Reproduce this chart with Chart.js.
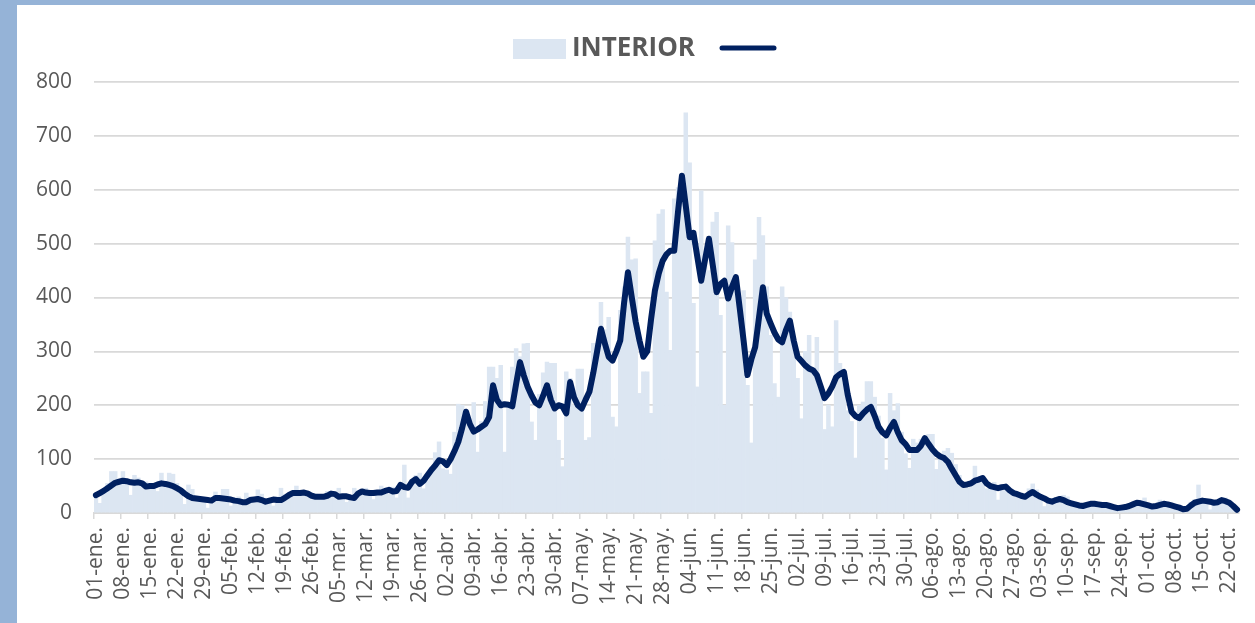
<!DOCTYPE html>
<html>
<head>
<meta charset="utf-8">
<script src="https://cdn.jsdelivr.net/npm/chart.js@4.4.1/dist/chart.umd.min.js"></script>
<style>
  html, body { margin: 0; padding: 0; }
  body { background: #95B3D7; width: 1255px; height: 623px; overflow: hidden; }
  #box { position: absolute; left: 17px; top: 5px; width: 1238px; height: 618px; background: #fff; }
</style>
</head>
<body>
<div id="box"><canvas id="chart" width="1238" height="618"></canvas></div>
<script>
// meses del año (no bisiesto), hasta el 24-oct
const months = [['ene', 31], ['feb', 28], ['mar', 31], ['abr', 30], ['may', 31],
                ['jun', 30], ['jul', 31], ['ago', 31], ['sep', 30], ['oct', 24]];

// casos diarios (barras)
const dailyValues = [
  30, 18, 40, 55, 77, 77, 60,
  77, 62, 33, 70, 65, 50, 58,
  45, 52, 40, 74, 55, 74, 72,
  55, 45, 16, 52, 44, 30, 25,
  22, 9, 25, 39, 30, 44, 44,
  13, 25, 30, 20, 37, 30, 20,
  43, 35, 25, 20, 13, 30, 46,
  35, 30, 38, 50, 40, 33, 30,
  25, 35, 28, 30, 40, 35, 30,
  46, 30, 20, 30, 46, 42, 35,
  46, 40, 25, 40, 50, 45, 35,
  48, 28, 50, 89, 28, 60, 70,
  74, 45, 60, 85, 112, 132, 82,
  80, 72, 150, 202, 200, 190, 160,
  205, 113, 170, 207, 271, 271, 250,
  274, 113, 200, 271, 305, 290, 314,
  315, 169, 135, 220, 260, 280, 278,
  278, 135, 86, 262, 250, 200, 267,
  267, 135, 140, 315, 315, 391, 340,
  363, 178, 160, 376, 420, 512, 470,
  472, 222, 262, 262, 185, 505, 555,
  563, 410, 302, 583, 604, 600, 743,
  650, 389, 234, 598, 480, 450, 540,
  558, 367, 200, 533, 502, 440, 400,
  413, 237, 130, 470, 549, 515, 420,
  330, 240, 215, 420, 400, 373, 311,
  250, 175, 300, 330, 260, 326, 230,
  155, 200, 160, 357, 278, 240, 190,
  170, 102, 200, 206, 244, 244, 215,
  180, 139, 80, 222, 190, 203, 150,
  110, 83, 137, 130, 137, 140, 146,
  146, 81, 110, 115, 120, 111, 90,
  70, 55, 46, 60, 87, 68, 62,
  45, 52, 57, 24, 52, 45, 40,
  35, 38, 30, 33, 45, 54, 43,
  30, 12, 25, 22, 20, 28, 33,
  30, 18, 15, 16, 14, 18, 20,
  15, 12, 18, 14, 10, 8, 10,
  12, 9, 15, 18, 20, 22, 28,
  15, 10, 12, 24, 18, 15, 12,
  10, 8, 5, 12, 20, 25, 52,
  25, 22, 6, 20, 22, 22, 28,
  20, 12, 8
];

// media móvil (línea)
const trendValues = [
  33, 37, 41, 46, 51, 56, 58,
  60, 59, 57, 56, 57, 55, 49,
  50, 50, 53, 55, 54, 52, 50,
  46, 42, 36, 31, 28, 27, 26,
  25, 24, 23, 28, 28, 27, 26,
  25, 23, 22, 20, 20, 24, 25,
  26, 24, 21, 23, 25, 24, 24,
  28, 33, 37, 37, 37, 38, 36,
  32, 30, 30, 30, 32, 36, 35,
  30, 31, 31, 29, 28, 36, 40,
  38, 37, 37, 38, 38, 41, 43,
  40, 41, 52, 48, 47, 58, 63,
  54, 60, 70, 80, 88, 98, 96,
  89, 100, 115, 132, 158, 188, 165,
  151, 155, 160, 165, 178, 237, 210,
  200, 202, 201, 198, 240, 280, 255,
  234, 218, 205, 200, 218, 237, 210,
  194, 200, 198, 185, 243, 215, 200,
  194, 210, 225, 260, 300, 342, 315,
  290, 283, 300, 320, 390, 447, 400,
  355, 320, 290, 300, 360, 413, 445,
  468, 480, 487, 487, 560, 626, 570,
  512, 520, 475, 431, 470, 509, 460,
  410, 425, 431, 398, 420, 438, 380,
  320, 256, 285, 308, 363, 419, 370,
  352, 335, 322, 317, 340, 357, 320,
  290, 282, 274, 268, 265, 256, 235,
  213, 222, 235, 252, 258, 262, 220,
  188, 180, 176, 185, 192, 197, 180,
  160, 150, 144, 158, 169, 150, 135,
  128, 117, 117, 117, 125, 139, 128,
  118, 110, 105, 102, 95, 82, 70,
  58, 52, 53, 55, 60, 62, 65,
  55, 50, 48, 46, 48, 49, 42,
  37, 35, 32, 30, 35, 39, 34,
  30, 27, 23, 21, 24, 26, 24,
  20, 18, 16, 14, 13, 15, 17,
  17, 16, 15, 15, 13, 11, 9,
  10, 11, 13, 16, 19, 18, 16,
  14, 12, 13, 15, 17, 16, 14,
  12, 10, 7, 8, 14, 19, 21,
  23, 22, 21, 19, 20, 24, 22,
  19, 13, 6
];

const yTicks = [0, 100, 200, 300, 400, 500, 600, 700, 800];
const tickEvery = 7;

// etiquetas diarias dd-mmm.
const categories = [];
months.forEach(([m, n]) => {
  for (let d = 1; d <= n; d++) categories.push(String(d).padStart(2, '0') + '-' + m + '.');
});

const BAR = '#DCE6F2';
const LINE = '#002060';
const TEXT = '#595959';
const GRID = '#D9D9D9';
const FONT = "'Open Sans', 'Liberation Sans', sans-serif";

// leyenda dibujada a mano
const legendPlugin = {
  id: 'topLegend',
  afterDraw(chart) {
    const ctx = chart.ctx;
    const cx = chart.width / 2;
    ctx.save();
    ctx.fillStyle = BAR;
    ctx.fillRect(cx - 123, 34, 53, 20);
    ctx.fillStyle = TEXT;
    ctx.font = "bold 26px " + FONT;
    ctx.textBaseline = 'middle';
    ctx.textAlign = 'left';
    ctx.fillText('INTERIOR', cx - 64, 44);
    ctx.strokeStyle = LINE;
    ctx.lineWidth = 5;
    ctx.lineCap = 'round';
    ctx.beginPath();
    ctx.moveTo(cx + 86, 43);
    ctx.lineTo(cx + 138, 43);
    ctx.stroke();
    ctx.restore();
  }
};

new Chart(document.getElementById('chart'), {
  type: 'bar',
  data: {
    labels: categories,
    datasets: [
      {
        type: 'line',
        label: '',
        data: trendValues,
        borderColor: LINE,
        borderWidth: 6,
        pointRadius: 0,
        tension: 0,
        borderJoinStyle: 'round',
        borderCapStyle: 'round',
        order: 0
      },
      {
        label: 'INTERIOR',
        data: dailyValues,
        backgroundColor: BAR,
        borderWidth: 0,
        barPercentage: 1,
        categoryPercentage: 1,
        order: 1
      }
    ]
  },
  plugins: [legendPlugin],
  options: {
    responsive: false,
    animation: false,
    layout: { padding: { top: 77, right: 16, left: 0, bottom: 0 } },
    plugins: {
      legend: { display: false },
      tooltip: { enabled: false }
    },
    scales: {
      x: {
        offset: true,
        grid: {
          offset: true,
          drawOnChartArea: false,
          drawTicks: true,
          tickLength: 6,
          lineWidth: 1.5,
          color: c => (c.index % tickEvery === 0 ? GRID : 'rgba(0,0,0,0)')
        },
        border: { display: true, color: GRID, width: 2 },
        ticks: {
          autoSkip: false,
          minRotation: 90,
          maxRotation: 90,
          padding: 8,
          color: TEXT,
          font: { family: FONT, size: 21 },
          callback: (v, i) => (i % tickEvery === 0 ? categories[i] : '')
        },
        afterFit: s => { s.height = 110; s.paddingLeft = 0; s.paddingRight = 0; }
      },
      y: {
        min: yTicks[0],
        max: yTicks[yTicks.length - 1],
        afterBuildTicks: s => { s.ticks = yTicks.map(v => ({ value: v })); },
        grid: { color: GRID, lineWidth: 1.75, drawTicks: false },
        border: { display: false },
        ticks: {
          padding: 22,
          color: TEXT,
          font: { family: FONT, size: 21 }
        },
        afterFit: s => { s.width = 77; }
      }
    }
  }
});
</script>
</body>
</html>
